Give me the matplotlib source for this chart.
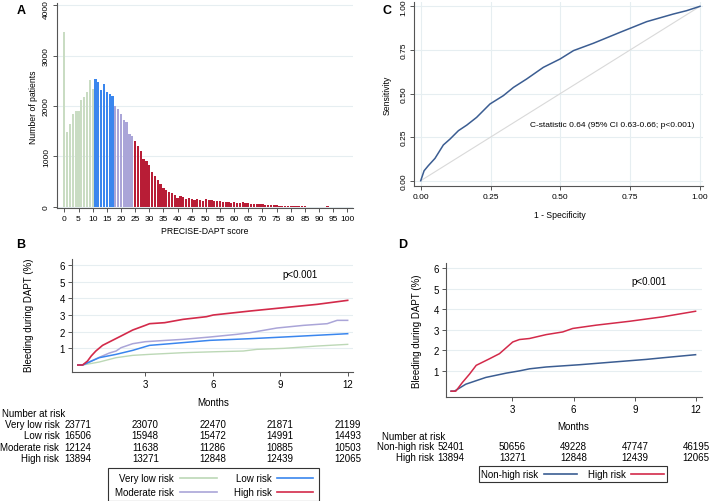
import numpy as np
import matplotlib
matplotlib.use("Agg")
import matplotlib.pyplot as plt
from matplotlib.transforms import blended_transform_factory, ScaledTranslation
from matplotlib.lines import Line2D
from matplotlib.patches import Rectangle

plt.rcParams['font.family'] = ['Liberation Sans', 'DejaVu Sans']

# ---------------- Data ----------------
# Panel A: PRECISE-DAPT score histogram
scores = list(range(0, 101))
counts = [3470, 1480, 1650, 1850, 1900, 1900, 2120, 2180, 2280, 2520, 2330,
          2530, 2470, 2320, 2430, 2270, 2240, 2200,
          2000, 1950, 1840, 1720, 1680, 1450, 1400,
          1300, 1200, 1100, 960, 920, 830, 700, 620, 530, 450,
          380, 340, 290, 270, 230, 180, 210, 200, 165, 180,
          150, 145, 155, 140, 125, 150, 140, 135, 120, 120,
          115, 105, 105, 100, 70, 100, 80, 75, 90, 80,
          75, 65, 60, 55, 50, 50, 45, 40, 35, 30,
          30, 25, 20, 20, 18, 15, 15, 12, 12, 10,
          10, 8, 8, 7, 6, 6, 5, 8, 10, 5,
          5, 4, 3, 2, 2, 2]
risk_cutoffs = [10, 17, 24]  # very low <=10, low 11-17, moderate 18-24, high >=25

# Panel B: cumulative bleeding by 4 risk groups (months, %)
b_vlow_m = [0, 0.21, 0.95, 1.7, 2.44, 3.19, 4.68, 6.17, 7.36, 7.96, 9.15, 10.64, 12.0]
b_vlow_v = [0, 0, 0.18, 0.44, 0.58, 0.64, 0.74, 0.80, 0.84, 0.94, 1.00, 1.14, 1.24]
b_low_m = [0, 0.21, 0.95, 1.7, 2.44, 3.19, 3.93, 5.87, 7.66, 9.15, 12.0]
b_low_v = [0, 0, 0.44, 0.64, 0.88, 1.18, 1.26, 1.48, 1.58, 1.68, 1.88]
b_mod_m = [0, 0.21, 0.95, 1.4, 1.7, 1.92, 2.44, 3.0, 3.93, 4.68, 5.87, 7.06, 7.66, 8.85, 10.04, 11.09, 11.53, 12.0]
b_mod_v = [0, 0, 0.46, 0.72, 0.84, 1.04, 1.28, 1.40, 1.48, 1.54, 1.68, 1.84, 1.94, 2.22, 2.38, 2.48, 2.68, 2.68]
b_high_m = [0, 0.21, 0.43, 0.6, 0.8, 1.1, 1.48, 1.92, 2.44, 3.0, 3.19, 3.86, 4.68, 5.72, 6.02, 7.66, 9.15, 10.64, 12.0]
b_high_v = [0, 0, 0.24, 0.55, 0.84, 1.18, 1.44, 1.74, 2.10, 2.38, 2.48, 2.54, 2.74, 2.90, 3.00, 3.24, 3.44, 3.64, 3.88]

# Panel C: ROC curve
roc_fpr = [0, 0.012, 0.027, 0.051, 0.081, 0.105, 0.135, 0.165, 0.2, 0.248, 0.296,
           0.332, 0.379, 0.439, 0.499, 0.547, 0.618, 0.714, 0.809, 0.905, 0.952, 1.0]
roc_tpr = [0, 0.057, 0.086, 0.128, 0.205, 0.239, 0.287, 0.319, 0.363, 0.44, 0.488,
           0.535, 0.583, 0.65, 0.698, 0.746, 0.788, 0.851, 0.912, 0.956, 0.975, 1.0]

# Panel D: non-high vs high risk
d_non_m = [0, 0.16, 0.72, 1.7, 2.7, 3.35, 3.84, 4.66, 6.29, 7.92, 9.56, 10.38, 11.98]
d_non_v = [0, 0, 0.34, 0.67, 0.88, 0.99, 1.09, 1.18, 1.29, 1.42, 1.55, 1.63, 1.78]
d_high_m = [0, 0.23, 0.55, 0.9, 1.23, 1.88, 2.37, 3.02, 3.35, 3.84, 4.66, 5.47, 5.96, 7.1, 8.74, 10.38, 11.98]
d_high_v = [0, 0, 0.42, 0.83, 1.26, 1.58, 1.83, 2.40, 2.52, 2.57, 2.76, 2.89, 3.06, 3.22, 3.41, 3.63, 3.90]

# Number at risk tables
risk_times = [0, 3, 6, 9, 12]
b_groups = ["Very low risk", "Low risk", "Moderate risk", "High risk"]
b_at_risk = [[23771, 23070, 22470, 21871, 21199],
             [16506, 15948, 15472, 14991, 14493],
             [12124, 11638, 11286, 10885, 10503],
             [13894, 13271, 12848, 12439, 12065]]
d_groups = ["Non-high risk", "High risk"]
d_at_risk = [[52401, 50656, 49228, 47747, 46195],
             [13894, 13271, 12848, 12439, 12065]]

# ---------------- Style ----------------
W, H = 709, 502
c_vlow = '#c9dcc3'
c_low = '#3a86ee'
c_mod = '#aaa5d8'
c_high = '#b81d36'
c_high_line = '#d32a4a'
c_vlow_line = '#bcd8b6'
c_navy = '#3b5d92'
grid_c = '#e6eef1'
spine_c = '#555555'

fig = plt.figure(figsize=(W / 100, H / 100), dpi=100)


def ax_px(left, top, right, bottom):
    return fig.add_axes([left / W, 1 - bottom / H, (right - left) / W, (bottom - top) / H])


def style(ax, fs):
    for s in ['top', 'right']:
        ax.spines[s].set_visible(False)
    for s in ['left', 'bottom']:
        ax.spines[s].set_color(spine_c)
        ax.spines[s].set_linewidth(0.8)
    ax.tick_params(axis='both', labelsize=fs, length=3, width=0.7, color=spine_c, pad=2)
    ax.set_axisbelow(True)


def fx(px):
    return px / W


def fy(py):
    return 1 - py / H


# ---------------- Panel A ----------------
axA = ax_px(57, 4, 353, 209)
style(axA, 6)
colors = []
for s in scores:
    if s <= risk_cutoffs[0]:
        colors.append(c_vlow)
    elif s <= risk_cutoffs[1]:
        colors.append(c_low)
    elif s <= risk_cutoffs[2]:
        colors.append(c_mod)
    else:
        colors.append(c_high)
axA.bar(scores, counts, width=0.8, color=colors, linewidth=0)
axA.set_xlim(-2.6, 102)
axA.set_ylim(-20, 4040)
axA.set_xticks(range(0, 101, 5))
axA.set_yticks([0, 1000, 2000, 3000, 4000])
ylabsA = axA.get_yticklabels()
for lab in ylabsA:
    lab.set_rotation(90)
    lab.set_va('center')
# keep the top label inside the figure
ylabsA[-1].set_va('top')
ylabsA[-1].set_transform(ylabsA[-1].get_transform() +
                         ScaledTranslation(0, 5.5 / 100, fig.dpi_scale_trans))
axA.yaxis.grid(True, color=grid_c, linewidth=0.8)
fig.text(fx(205), fy(232), "PRECISE-DAPT score", fontsize=6.2, ha='center', va='center')
fig.text(fx(33), fy(107), "Number of patients", fontsize=6.2, ha='center', va='center', rotation=90)
fig.text(fx(21), fy(11), "A", fontsize=9, fontweight='bold', ha='center', va='center')

# ---------------- Panel C ----------------
axC = ax_px(414.3, 3.3, 702.8, 187.3)
style(axC, 6)
axC.set_xlim(-0.023, 1.01)
axC.set_ylim(-0.032, 1.023)
ticksC = [0, 0.25, 0.5, 0.75, 1.0]
axC.set_xticks(ticksC)
axC.set_yticks(ticksC)
axC.set_xticklabels(["%.2f" % t for t in ticksC])
axC.set_yticklabels(["%.2f" % t for t in ticksC], rotation=90, va='center')
axC.grid(True, color=grid_c, linewidth=0.8)
axC.plot([0, 1], [0, 1], color='#d9d9d9', linewidth=0.8)
axC.plot(roc_fpr, roc_tpr, color=c_navy, linewidth=1.1)
axC.text(0.685, 0.32, "C-statistic 0.64 (95% CI 0.63-0.66; p<0.001)", fontsize=6, ha='center', va='center')
fig.text(fx(560), fy(215), "1 - Specificity", fontsize=6.2, ha='center', va='center')
fig.text(fx(386.7), fy(95), "Sensitivity", fontsize=6.2, ha='center', va='center', rotation=90)
fig.text(fx(387), fy(11), "C", fontsize=9, fontweight='bold', ha='center', va='center')

# ---------------- Panel B ----------------
axB = ax_px(72, 260, 353.3, 372.7)
style(axB, 7)
axB.set_xlim(-0.26, 12.25)
axB.set_ylim(-0.4, 6.36)
axB.set_xticks([3, 6, 9, 12])
axB.set_yticks([1, 2, 3, 4, 5, 6])
axB.yaxis.grid(True, color=grid_c, linewidth=0.8)
axB.plot(b_vlow_m, b_vlow_v, color=c_vlow_line, linewidth=1.0)
axB.plot(b_mod_m, b_mod_v, color=c_mod, linewidth=1.1)
axB.plot(b_low_m, b_low_v, color=c_low, linewidth=1.1)
axB.plot(b_high_m, b_high_v, color=c_high_line, linewidth=1.2)
axB.text(9.9, 5.44, "p<0.001", fontsize=7, ha='center', va='center')
fig.text(fx(213), fy(403), "Months", fontsize=7, ha='center', va='center')
fig.text(fx(29), fy(315), "Bleeding during DAPT (%)", fontsize=7, ha='center', va='center', rotation=90)
fig.text(fx(21), fy(245), "B", fontsize=9, fontweight='bold', ha='center', va='center')

trB = blended_transform_factory(axB.transData, fig.transFigure)
fig.text(fx(1.7), fy(413.7), "Number at risk", fontsize=7, ha='left', va='center')
b_rows_y = [424.8, 436.3, 447.8, 459.2]
for g, row, yy in zip(b_groups, b_at_risk, b_rows_y):
    fig.text(fx(59.3), fy(yy), g, fontsize=7, ha='right', va='center')
    for t, n in zip(risk_times, row):
        fig.text(t, fy(yy), str(n), fontsize=7, ha='center', va='center', transform=trB)

# Legend B (drawn manually)
fig.patches.append(Rectangle((fx(107.7), fy(501.5)), fx(319.3) - fx(107.7), fy(469) - fy(501.5),
                             transform=fig.transFigure, facecolor='white', edgecolor='#333333',
                             linewidth=0.8, figure=fig))
leg_B = [("Very low risk", c_vlow_line, 174, 180, 217.3, 479),
         ("Low risk", c_low, 271.7, 276.7, 313.3, 479),
         ("Moderate risk", c_mod, 174, 180, 217.3, 492.7),
         ("High risk", c_high_line, 271.7, 276.7, 313.3, 492.7)]
for lab, col, tx, l0, l1, yy in leg_B:
    fig.text(fx(tx), fy(yy), lab, fontsize=7, ha='right', va='center')
    fig.lines.append(Line2D([fx(l0), fx(l1)], [fy(yy), fy(yy)], color=col, linewidth=1.2,
                            transform=fig.transFigure, figure=fig))

# ---------------- Panel D ----------------
axD = ax_px(446, 264.3, 701.7, 397.7)
style(axD, 7)
axD.set_xlim(-0.25, 12.28)
axD.set_ylim(-0.27, 6.24)
axD.set_xticks([3, 6, 9, 12])
axD.set_yticks([1, 2, 3, 4, 5, 6])
axD.yaxis.grid(True, color=grid_c, linewidth=0.8)
axD.plot(d_non_m, d_non_v, color=c_navy, linewidth=1.1)
axD.plot(d_high_m, d_high_v, color=c_high_line, linewidth=1.1)
axD.text(9.7, 5.4, "p<0.001", fontsize=7, ha='center', va='center')
fig.text(fx(573.3), fy(426.7), "Months", fontsize=7, ha='center', va='center')
fig.text(fx(416.7), fy(331), "Bleeding during DAPT (%)", fontsize=7, ha='center', va='center', rotation=90)
fig.text(fx(403), fy(245), "D", fontsize=9, fontweight='bold', ha='center', va='center')

trD = blended_transform_factory(axD.transData, fig.transFigure)
fig.text(fx(382.3), fy(437.3), "Number at risk", fontsize=7, ha='left', va='center')
d_rows_y = [447.5, 457.9]
for g, row, yy in zip(d_groups, d_at_risk, d_rows_y):
    fig.text(fx(434), fy(yy), g, fontsize=7, ha='right', va='center')
    for t, n in zip(risk_times, row):
        fig.text(t, fy(yy), str(n), fontsize=7, ha='center', va='center', transform=trD)

fig.patches.append(Rectangle((fx(479.3), fy(482.7)), fx(667.3) - fx(479.3), fy(466.7) - fy(482.7),
                             transform=fig.transFigure, facecolor='white', edgecolor='#333333',
                             linewidth=0.8, figure=fig))
leg_D = [("Non-high risk", c_navy, 538.3, 544, 576.7, 475.3),
         ("High risk", c_high_line, 625.7, 630.7, 664, 475.3)]
for lab, col, tx, l0, l1, yy in leg_D:
    fig.text(fx(tx), fy(yy), lab, fontsize=7, ha='right', va='center')
    fig.lines.append(Line2D([fx(l0), fx(l1)], [fy(yy), fy(yy)], color=col, linewidth=1.2,
                            transform=fig.transFigure, figure=fig))

fig.savefig("out.png", dpi=100)
